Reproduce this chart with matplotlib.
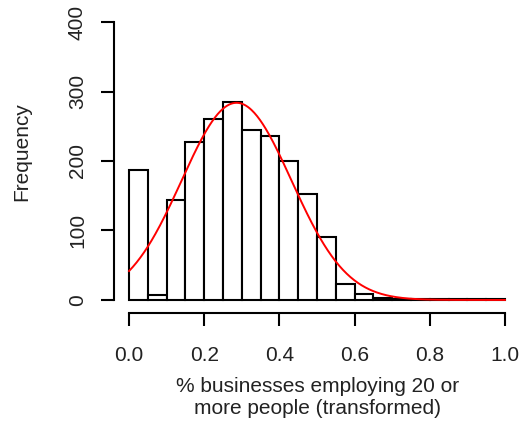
import numpy as np
import matplotlib
matplotlib.use("Agg")
import matplotlib.pyplot as plt

plt.rcParams['font.family'] = ['Liberation Sans', 'DejaVu Sans']

bin_edges = [round(0.05 * i, 2) for i in range(21)]
counts = [187, 7, 144, 228, 260, 285, 245, 236, 200, 153,
          91, 23, 8, 3, 1, 1, 2, 1, 1, 1]
fit_mean = 0.286
fit_sd = 0.146
x_ticks = [0.0, 0.2, 0.4, 0.6, 0.8, 1.0]
x_ticklabels = ["0.0", "0.2", "0.4", "0.6", "0.8", "1.0"]
y_ticks = [0, 100, 200, 300, 400]
y_ticklabels = ["0", "100", "200", "300", "400"]

W, H = 523, 425
txt_color = '#222222'
fig = plt.figure(figsize=(W / 100, H / 100), dpi=100)
left_px, right_px = 114, 520
bottom_px, top_px = 311.1, 10.9
ax = fig.add_axes([left_px / W, 1 - bottom_px / H,
                   (right_px - left_px) / W, (bottom_px - top_px) / H])

bw = bin_edges[1] - bin_edges[0]
ax.bar(bin_edges[:-1], counts, width=bw, align='edge', facecolor='white',
       edgecolor='black', linewidth=1.5, zorder=2)

n = sum(counts)
xs = np.linspace(0, 1, 400)
ys = n * bw / (fit_sd * np.sqrt(2 * np.pi)) * np.exp(-0.5 * ((xs - fit_mean) / fit_sd) ** 2)
ax.plot(xs, ys, color='#ff0000', linewidth=1.4, zorder=3)

ax.set_xlim(-0.04, 1.04)
ax.set_ylim(-16, 416)
for s in ['top', 'right']:
    ax.spines[s].set_visible(False)
ax.spines['left'].set_bounds(0, 400)
ax.spines['bottom'].set_bounds(0, 1)
ax.spines['bottom'].set_position(('outward', 1.6))
for s in ['left', 'bottom']:
    ax.spines[s].set_linewidth(1.5)

ax.set_xticks(x_ticks)
ax.set_xticklabels(x_ticklabels)
ax.set_yticks(y_ticks)
ax.set_yticklabels(y_ticklabels, rotation=90, va='center')
ax.tick_params(axis='both', length=9.5, width=1.5, labelsize=15, color='black',
               labelcolor=txt_color)
ax.tick_params(axis='x', pad=14)
ax.tick_params(axis='y', pad=10)

fig.text(22 / W, 1 - 152 / H, 'Frequency', rotation=90, ha='center', va='center',
         fontsize=15, color=txt_color)
fig.text(318 / W, 1 - 397.5 / H, '% businesses employing 20 or\nmore people (transformed)',
         ha='center', va='center', fontsize=15, linespacing=1.2, color=txt_color)

fig.savefig('out.png', dpi=100)
